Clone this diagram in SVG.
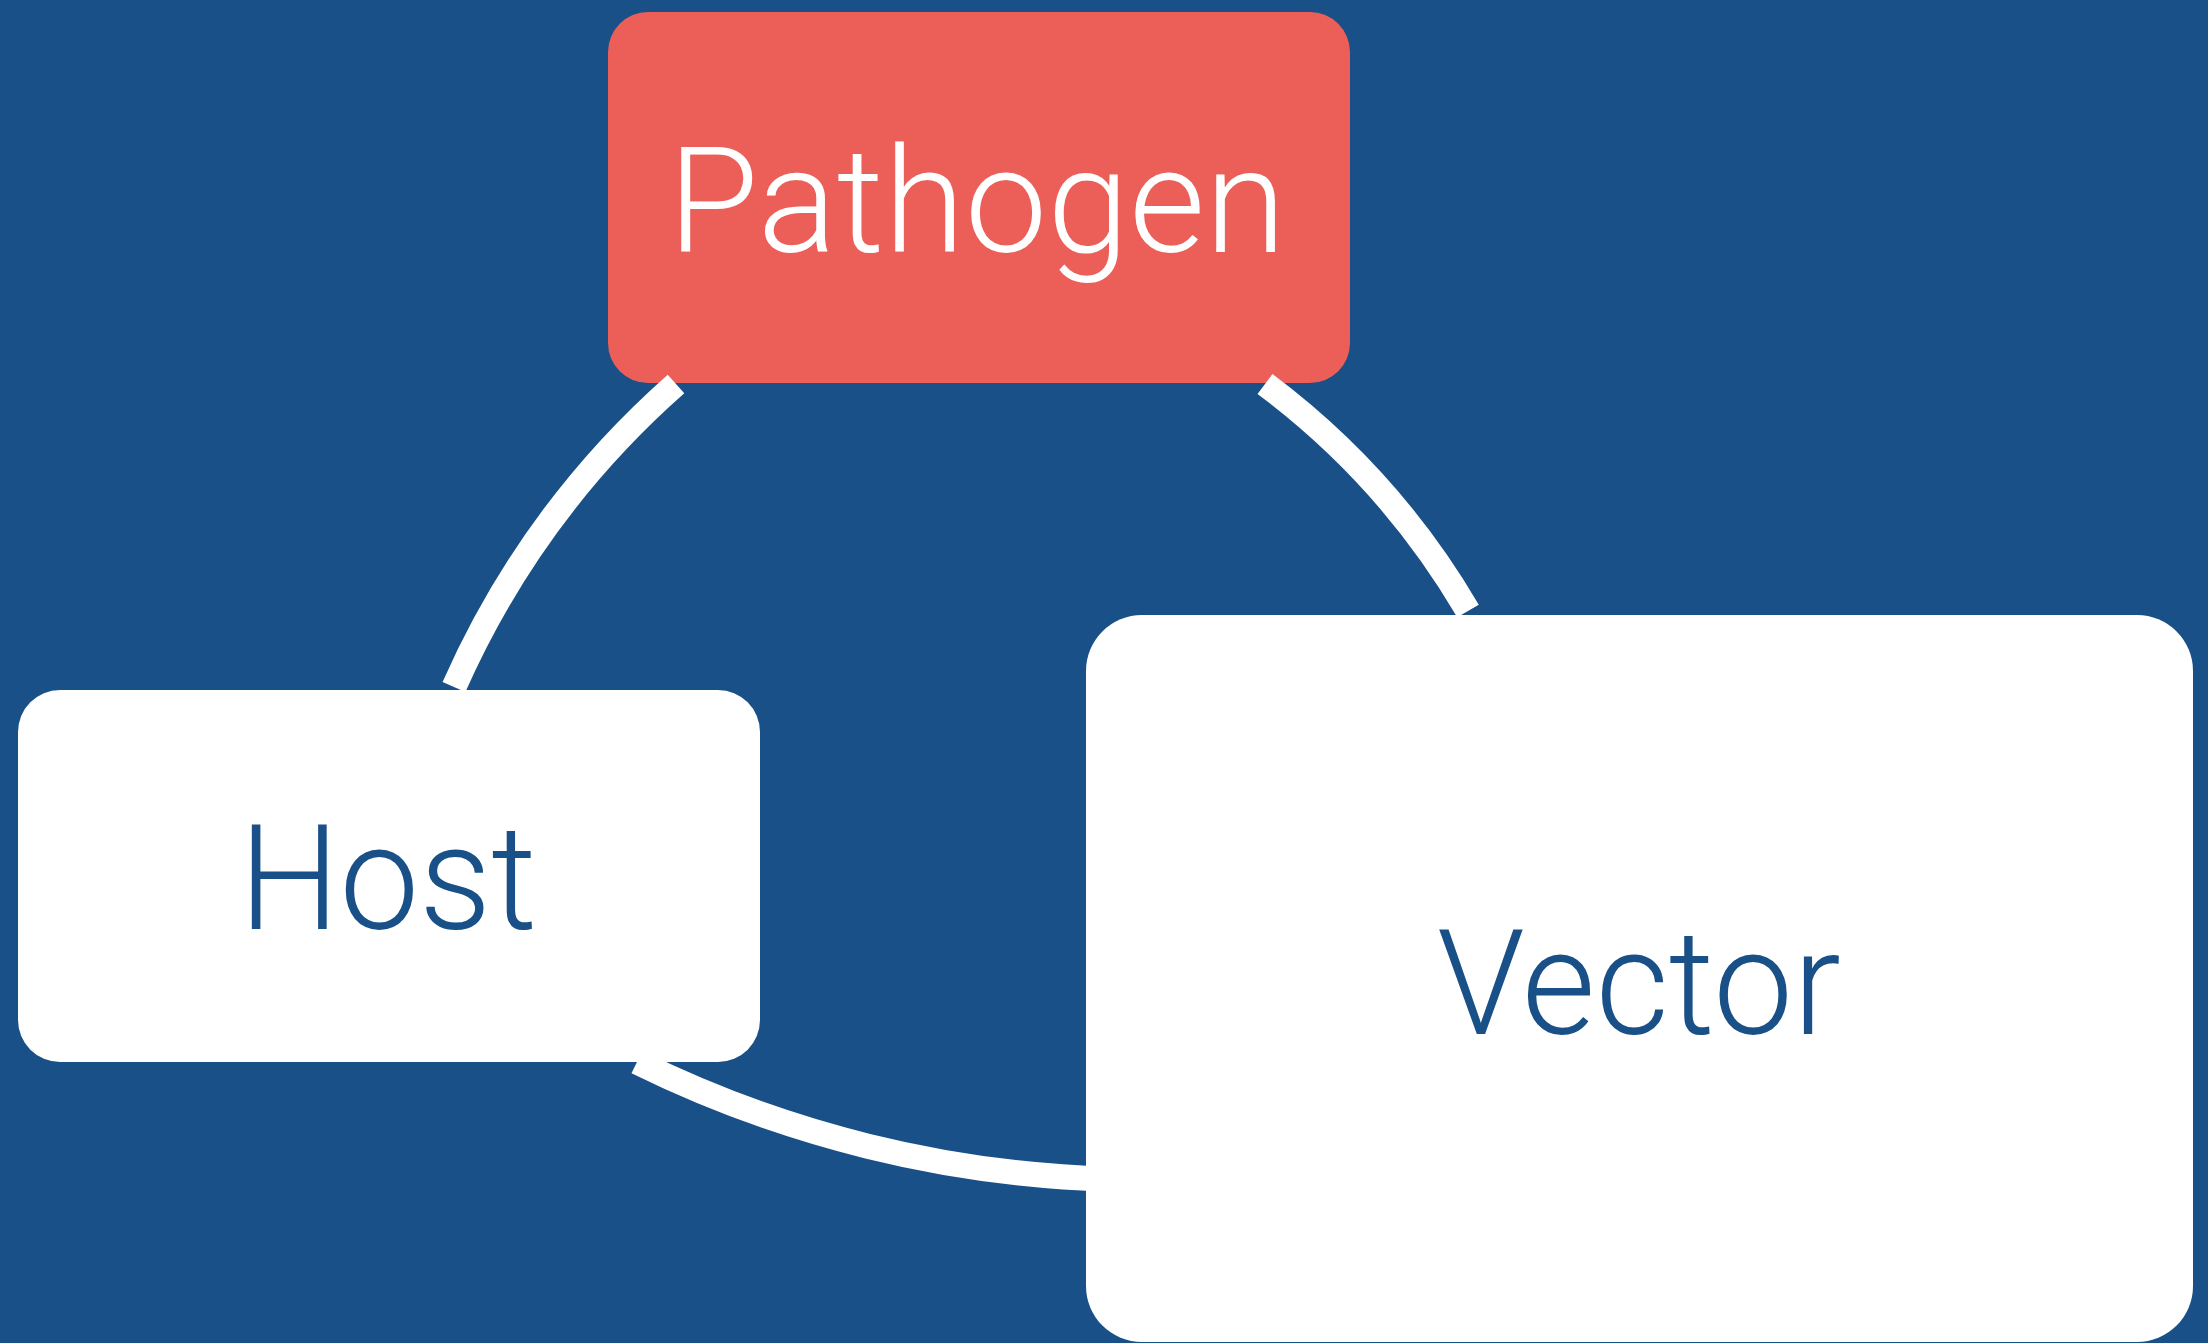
<svg xmlns="http://www.w3.org/2000/svg" width="2208" height="1343" viewBox="0 0 2208 1343">
<style>
.lbl{font-family:Roboto,"Liberation Sans",Arial,sans-serif;font-weight:300;font-size:146px;text-anchor:middle}
.conn{fill:none;stroke:#ffffff;stroke-width:25;stroke-linecap:butt}
</style>
<rect x="0" y="0" width="2208" height="1343" fill="#185087"/>
<g id="node-pathogen">
<rect x="608" y="12" width="742" height="371" rx="40" ry="40" fill="#EC5F59"/>
<text class="lbl" x="977" y="252" fill="#ffffff" textLength="618" lengthAdjust="spacingAndGlyphs">Pathogen</text>
</g>
<g id="connectors">
<path class="conn" d="M676,384 A880,880 0 0 0 454,687"/>
<path class="conn" d="M1265,384 A770,770 0 0 1 1468,611"/>
<path class="conn" d="M637,1062 A1143,1143 0 0 0 1110,1179.2"/>
</g>
<g id="node-host">
<rect x="18" y="690" width="742" height="372" rx="42" ry="42" fill="#ffffff"/>
<text class="lbl" x="388" y="929" fill="#185087" textLength="298" lengthAdjust="spacingAndGlyphs">Host</text>
</g>
<g id="node-vector">
<rect x="1086" y="615" width="1107" height="727" rx="56" ry="56" fill="#ffffff"/>
<text class="lbl" x="1639" y="1034" fill="#185087" textLength="404" lengthAdjust="spacingAndGlyphs">Vector</text>
</g>
</svg>
